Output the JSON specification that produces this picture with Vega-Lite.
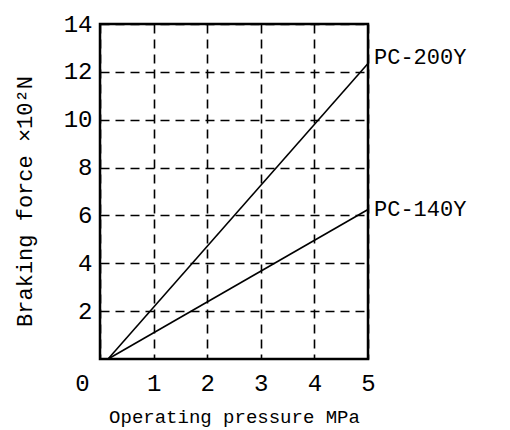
{
  "$schema": "https://vega.github.io/schema/vega-lite/v6.json",
  "width": 268,
  "height": 335,
  "autosize": {"type": "none"},
  "padding": {"left": 100, "top": 24, "right": 142, "bottom": 71},
  "background": "white",
  "config": {
    "view": {"stroke": "black", "strokeWidth": 2.5},
    "font": "Liberation Mono",
    "axis": {
      "domain": false,
      "ticks": false,
      "labelFlush": false,
      "gridColor": "black",
      "gridOpacity": 1,
      "gridWidth": 1.6,
      "gridDash": [9, 6],
      "labelFont": "Liberation Mono",
      "labelFontSize": 24,
      "labelColor": "black",
      "titleFont": "Liberation Mono",
      "titleFontWeight": "normal",
      "titleColor": "black"
    }
  },
  "data": {
    "values": [
      {"series": "PC-200Y", "pressure": 0.15, "force": 0},
      {"series": "PC-200Y", "pressure": 5, "force": 12.35},
      {"series": "PC-140Y", "pressure": 0.15, "force": 0},
      {"series": "PC-140Y", "pressure": 5, "force": 6.25}
    ]
  },
  "encoding": {
    "x": {
      "field": "pressure",
      "type": "quantitative",
      "scale": {"domain": [0, 5], "nice": false},
      "axis": {
        "values": [0, 1, 2, 3, 4, 5],
        "title": "Operating pressure MPa",
        "titleFontSize": 19,
        "labelPadding": 12,
        "labelOffset": {"expr": "datum.value === 0 ? -18 : 0"},
        "titleY": 63,
        "titleBaseline": "alphabetic"
      }
    },
    "y": {
      "field": "force",
      "type": "quantitative",
      "scale": {"domain": [0, 14], "nice": false},
      "axis": {
        "values": [2, 4, 6, 8, 10, 12, 14],
        "title": "Braking force ×10²N",
        "titleFontSize": 22,
        "labelPadding": 8,
        "titleX": -76,
        "titleY": 177,
        "titleBaseline": "middle"
      }
    }
  },
  "layer": [
    {
      "mark": {"type": "line", "color": "black", "strokeWidth": 1.6},
      "encoding": {"detail": {"field": "series"}}
    },
    {
      "transform": [{"filter": "datum.pressure === 5 && datum.series === 'PC-200Y'"}],
      "mark": {"type": "text", "align": "left", "baseline": "middle", "dx": 6, "dy": -6, "fontSize": 22, "font": "Liberation Mono", "color": "black"},
      "encoding": {"text": {"field": "series"}}
    },
    {
      "transform": [{"filter": "datum.pressure === 5 && datum.series === 'PC-140Y'"}],
      "mark": {"type": "text", "align": "left", "baseline": "middle", "dx": 6, "dy": 0, "fontSize": 22, "font": "Liberation Mono", "color": "black"},
      "encoding": {"text": {"field": "series"}}
    }
  ]
}
